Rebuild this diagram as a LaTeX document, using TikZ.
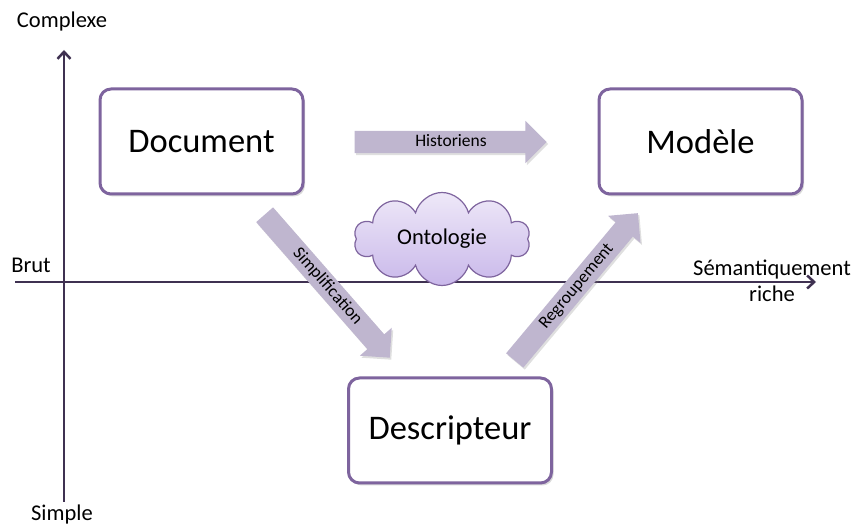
\documentclass[tikz,border=0pt]{standalone}
\usepackage{fontspec}
\setmainfont{Carlito}
\usetikzlibrary{shapes.arrows,shapes.symbols,shadows,arrows.meta}
\definecolor{axiscol}{HTML}{3F3151}
\definecolor{boxcol}{HTML}{7E649E}
\definecolor{arrowfill}{HTML}{BFB6CF}
\definecolor{cloudtop}{HTML}{EEE8F8}
\definecolor{cloudbot}{HTML}{C9B8EA}
\tikzset{
  box/.style={draw=boxcol, line width=3pt, rounded corners=11pt, fill=white,
    minimum width=203pt, minimum height=105pt, font=\fontsize{34.5}{40}\selectfont,
    drop shadow={opacity=0.3, shadow xshift=2pt, shadow yshift=-2.5pt}},
  blockarrow/.style={single arrow, fill=arrowfill, draw=none,
    single arrow head extend=10pt, font=\fontsize{17.5}{20}\selectfont,
    text height=12pt, text depth=3pt, inner ysep=3.5pt, inner xsep=2pt,
    drop shadow={opacity=0.25, shadow xshift=1.5pt, shadow yshift=-2pt}},
  axis/.style={draw=axiscol, line width=2.5pt, -{Straight Barb[length=7pt,width=13pt,line width=2.5pt]}},
  axlabel/.style={font=\fontsize{22.5}{26}\selectfont, inner sep=0pt}
}
\begin{document}
\begin{tikzpicture}[x=1pt,y=-1pt]
\useasboundingbox (0,0) rectangle (855,526);
% axes
\coordinate (vb) at (64,502);
\coordinate (vt) at (64,50);
\coordinate (hl) at (15,282);
\coordinate (hr) at (816,282);
\draw[axis] (vb) -- (vt);
\draw[axis] (hl) -- (hr);
\node[axlabel] (cx) at (62,22) {Complexe};
\node[axlabel] (sp) at (62,515) {Simple};
\node[axlabel] (bt) at (31,265) {Brut};
\node[axlabel, align=center] (sr) at (772,281) {Sémantiquement\\riche};
% cloud
\node[cloud, cloud puffs=10, cloud ignores aspect, draw=boxcol, line width=1.2pt,
  top color=cloudtop, bottom color=cloudbot, minimum width=176pt, minimum height=93pt,
  font=\fontsize{22.5}{26}\selectfont] (onto) at (442,239) {Ontologie};
% boxes
\node[box] (doc) at (201.5,141.5) {Document};
\node[box] (mod) at (700.5,141.5) {Modèle};
\node[box] (desc) at (450,430.5) {Descripteur};
% block arrows
\node[blockarrow, minimum height=192pt] (hist) at (445,142) {\hspace*{12pt}Historiens};
\node[blockarrow, minimum height=190pt, rotate=-48.8] (simp) at (323.5,282) {\hspace*{12pt}Simplification};
\node[blockarrow, minimum height=192pt, rotate=50.1] (regr) at (572.7,291.1) {\hspace*{12pt}Regroupement};
\end{tikzpicture}
\end{document}
